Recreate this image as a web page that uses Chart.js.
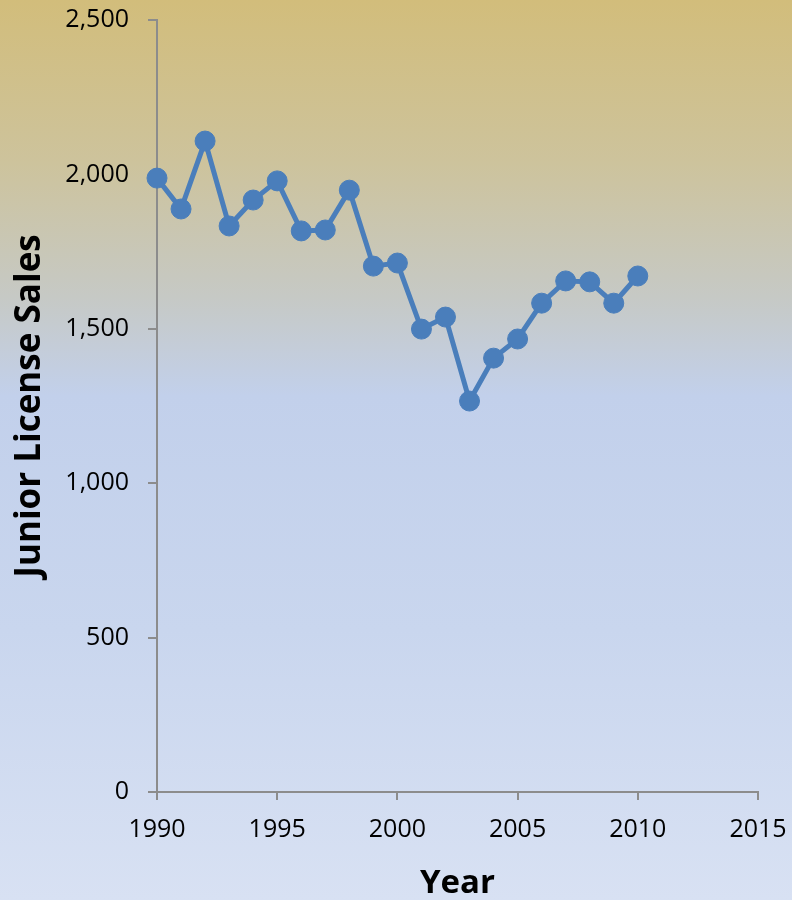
<!DOCTYPE html>
<html>
<head>
<meta charset="utf-8">
<script src="https://cdn.jsdelivr.net/npm/chart.js@4"></script>
<style>
  html, body { margin: 0; padding: 0; }
  #wrap {
    width: 792px; height: 900px; position: relative;
    background: linear-gradient(to bottom, #d2bd7b 0%, #cdc39c 18%, #c6c9c5 33%, #c2d0eb 44%, #c9d6ee 70%, #d8e1f3 100%);
  }
</style>
</head>
<body>
<div id="wrap"><canvas id="chart"></canvas></div>
<script>
// Junior license sales by year
var years = [1990, 1991, 1992, 1993, 1994, 1995, 1996, 1997, 1998, 1999, 2000,
             2001, 2002, 2003, 2004, 2005, 2006, 2007, 2008, 2009, 2010];
var sales = [1988, 1888, 2108, 1833, 1917, 1979, 1817, 1820, 1949, 1703, 1713,
             1499, 1538, 1266, 1405, 1467, 1583, 1655, 1652, 1583, 1671];
var xTicks = [1990, 1995, 2000, 2005, 2010, 2015];
var yTicks = [0, 500, 1000, 1500, 2000, 2500];

var points = years.map(function (y, i) { return { x: y, y: sales[i] }; });
var axisColor = '#8c8c8c';
var font = "'Open Sans', sans-serif";

new Chart(document.getElementById('chart').getContext('2d'), {
  type: 'line',
  data: {
    datasets: [{
      label: 'Junior License Sales',
      data: points,
      borderColor: '#4a7ebb',
      backgroundColor: '#4a7ebb',
      borderWidth: 5,
      pointRadius: 10,
      pointBorderWidth: 1,
      pointHoverRadius: 10,
      tension: 0,
      clip: false
    }]
  },
  options: {
    responsive: true,
    maintainAspectRatio: false,
    animation: false,
    layout: { autoPadding: false, padding: { left: 0, right: 34, top: 20, bottom: 0 } },
    plugins: { legend: { display: false }, tooltip: { enabled: false } },
    scales: {
      x: {
        type: 'linear',
        min: xTicks[0],
        max: xTicks[xTicks.length - 1],
        afterBuildTicks: function (s) { s.ticks = xTicks.map(function (v) { return { value: v }; }); },
        // fixed axis band so the plot area lines up with the reference
        afterFit: function (s) { s.height = 108; s.paddingLeft = 0; s.paddingRight = 0; },
        ticks: {
          color: '#000',
          padding: 15,
          font: { family: font, size: 25 },
          callback: function (v) { return String(v); }
        },
        grid: { drawOnChartArea: false, drawTicks: true, tickLength: 8, color: axisColor, lineWidth: 2 },
        border: { color: axisColor, width: 2 },
        title: {
          display: true, text: 'Year', color: '#000',
          font: { family: font, size: 33, weight: 'bold', lineHeight: 1 },
          padding: { top: 0, bottom: 0 }
        }
      },
      y: {
        min: yTicks[0],
        max: yTicks[yTicks.length - 1],
        afterBuildTicks: function (s) { s.ticks = yTicks.map(function (v) { return { value: v }; }); },
        afterFit: function (s) { s.width = 157; s.paddingTop = 0; s.paddingBottom = 0; },
        ticks: {
          color: '#000',
          padding: 19,
          font: { family: font, size: 25 },
          callback: function (v) { return v.toLocaleString('en-US'); }
        },
        grid: { drawOnChartArea: false, drawTicks: true, tickLength: 9, color: axisColor, lineWidth: 2 },
        border: { color: axisColor, width: 2 },
        title: {
          display: true, text: 'Junior License Sales', color: '#000',
          font: { family: font, size: 35, weight: 'bold', lineHeight: 1.2 },
          padding: { top: 9, bottom: 0 }
        }
      }
    }
  }
});
</script>
</body>
</html>
